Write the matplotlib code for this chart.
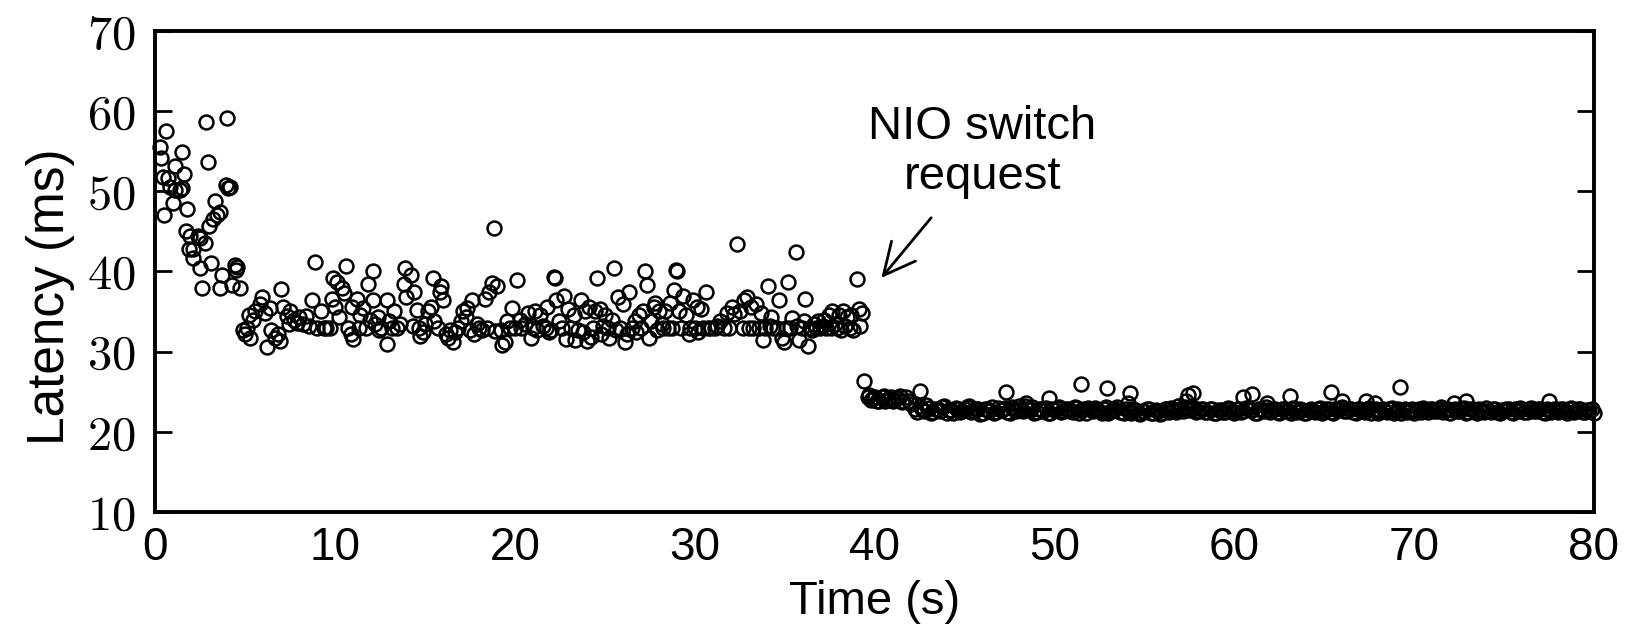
import matplotlib
matplotlib.use('Agg')
import matplotlib.pyplot as plt

# ------------------------
# data
# ------------------------
# 0-5 s: start-up, high latency
early_t = [0.25, 0.3, 0.6, 0.4, 0.7, 0.8, 1.1, 1.35, 1.47, 0.47, 1.0, 1.47, 1.1, 1.6, 1.75,
           2.9, 2.8, 4.0, 3.9, 4.15, 4.05, 3.3, 3.6, 3.4, 3.2, 3.0, 1.7, 1.9, 2.35, 2.5,
           2.75, 1.85, 2.1, 2.1, 2.5, 3.1, 3.7, 4.45, 4.5, 4.55, 2.6, 3.6, 4.25, 4.7]
early_lat = [55.5, 54.1, 57.5, 51.8, 51.6, 50.6, 50.2, 50.2, 50.4, 47.1, 48.5, 54.9, 53.2, 52.1, 47.8,
             53.6, 58.7, 59.1, 50.8, 50.5, 50.4, 48.8, 47.4, 47.0, 46.6, 45.7, 45.0, 44.4, 44.4, 44.2,
             43.6, 42.8, 42.8, 41.7, 40.4, 41.0, 39.6, 40.8, 40.2, 40.6, 38.0, 38.0, 38.3, 38.0]

# 5-39.5 s: before the NIO switch
pre_t = [4.85, 5.0, 5.1, 5.25, 5.2, 5.4, 5.55, 5.8, 5.95, 6.1, 6.2, 6.35, 6.45, 6.65, 6.8,
         6.9, 7.0, 7.1, 7.3, 7.4, 7.5, 7.7, 7.85, 8.0, 8.2, 8.35, 8.55, 8.7, 8.9, 9.0,
         9.2, 9.35, 9.5, 9.7, 9.8, 9.9, 10.0, 10.1, 10.2, 10.4, 10.5, 10.6, 10.7, 10.85, 10.95,
         11.0, 11.2, 11.3, 11.4, 11.55, 11.7, 11.8, 11.95, 12.1, 12.1, 12.2, 12.35, 12.45, 12.55, 12.9,
         12.85, 13.0, 13.15, 13.25, 13.45, 13.6, 13.8, 13.95, 13.9, 14.2, 14.3, 14.4, 14.55, 14.65, 14.7,
         14.9, 15.0, 15.15, 15.3, 15.45, 15.5, 15.7, 15.8, 15.9, 16.0, 16.15, 16.25, 16.4, 16.55, 16.65,
         16.85, 17.0, 17.1, 17.25, 17.35, 17.5, 17.6, 17.7, 17.9, 18.0, 18.15, 18.3, 18.45, 18.55, 18.7,
         18.85, 18.9, 19.0, 19.2, 19.3, 19.45, 19.55, 19.7, 19.85, 20.0, 20.1, 20.25, 20.35, 20.55, 20.7,
         20.9, 21.0, 21.1, 21.2, 21.4, 21.55, 21.7, 21.8, 21.9, 22.0, 22.15, 22.2, 22.3, 22.45, 22.6,
         22.7, 22.85, 22.95, 23.1, 23.25, 23.35, 23.5, 23.65, 23.75, 23.9, 24.0, 24.1, 24.2, 24.35, 24.45,
         24.55, 24.7, 24.8, 24.9, 25.0, 25.15, 25.25, 25.4, 25.5, 25.6, 25.7, 25.85, 26.0, 26.1, 26.25,
         26.35, 26.5, 26.65, 26.75, 26.9, 27.0, 27.1, 27.2, 27.35, 27.45, 27.55, 27.7, 27.8, 27.9, 28.0,
         28.15, 28.25, 28.35, 28.5, 28.6, 28.7, 28.85, 28.95, 29.0, 29.1, 29.25, 29.35, 29.5, 29.65, 29.75,
         29.9, 30.0, 30.1, 30.2, 30.35, 30.45, 30.6, 30.75, 30.9, 31.1, 31.25, 31.4, 31.6, 31.8, 31.9,
         32.05, 32.2, 32.35, 32.5, 32.65, 32.75, 32.9, 33.0, 33.1, 33.25, 33.4, 33.55, 33.7, 33.8, 33.9,
         34.05, 34.15, 34.25, 34.35, 34.55, 34.65, 34.85, 34.95, 35.05, 35.2, 35.3, 35.4, 35.6, 35.7, 35.8,
         35.95, 36.05, 36.15, 36.3, 36.4, 36.5, 36.6, 36.75, 36.85, 36.95, 37.1, 37.2, 37.3, 37.45, 37.55,
         37.65, 37.8, 37.9, 38.0, 38.1, 38.25, 38.35, 38.45, 38.6, 38.7, 38.8, 39.0, 39.1, 39.2, 39.3]
pre_lat = [32.7, 32.2, 33.0, 31.7, 34.6, 33.9, 35.1, 36.0, 36.8, 34.8, 30.6, 35.5, 32.7, 31.7, 32.2,
           31.3, 37.8, 35.6, 34.4, 33.5, 35.1, 34.0, 33.6, 34.3, 33.5, 34.4, 33.2, 36.4, 41.2, 33.0,
           35.1, 33.0, 33.0, 33.0, 36.6, 39.2, 35.6, 38.7, 34.3, 37.9, 37.3, 40.7, 33.0, 32.2, 35.6,
           31.6, 36.6, 33.0, 34.6, 35.5, 32.9, 38.4, 33.9, 40.1, 36.5, 33.4, 34.3, 32.7, 33.0, 30.9,
           36.5, 33.8, 33.0, 35.1, 33.0, 33.5, 38.4, 36.8, 40.4, 39.5, 33.2, 37.4, 35.2, 33.0, 32.0,
           32.5, 33.4, 35.1, 35.6, 39.2, 33.8, 33.0, 37.4, 38.2, 36.5, 32.2, 31.7, 32.7, 31.2, 32.5,
           33.0, 33.8, 35.1, 34.3, 35.5, 32.7, 36.4, 32.2, 33.4, 33.0, 32.7, 36.6, 33.0, 37.5, 38.6,
           45.4, 32.6, 38.2, 32.7, 30.8, 31.2, 33.8, 33.0, 35.5, 33.0, 39.0, 34.0, 33.0, 33.5, 34.8,
           31.7, 33.0, 35.1, 32.7, 34.6, 33.2, 33.0, 35.6, 32.5, 32.7, 39.3, 39.2, 36.4, 33.8, 33.0,
           36.9, 31.6, 35.3, 33.0, 34.6, 31.4, 32.7, 36.4, 32.5, 35.1, 31.3, 35.6, 31.8, 33.0, 35.1,
           39.2, 35.3, 32.2, 33.2, 34.6, 33.0, 31.7, 34.0, 40.4, 32.7, 36.8, 33.0, 35.9, 31.2, 32.2,
           37.4, 33.0, 33.8, 32.5, 34.6, 33.0, 35.1, 40.0, 38.3, 31.7, 33.8, 35.6, 36.1, 32.7, 35.1,
           33.5, 33.0, 35.1, 33.0, 36.1, 33.0, 37.7, 40.2, 40.1, 35.1, 33.0, 36.9, 34.6, 32.2, 33.0,
           36.4, 33.0, 35.6, 32.5, 35.3, 33.0, 37.4, 33.0, 33.0, 33.0, 33.2, 33.8, 33.0, 34.8, 33.0,
           35.6, 34.7, 43.4, 35.1, 33.0, 36.4, 36.8, 33.0, 35.6, 33.0, 35.9, 33.0, 34.8, 31.4, 33.0,
           38.2, 33.2, 34.3, 33.0, 33.0, 36.4, 31.7, 31.2, 33.0, 38.7, 33.0, 34.2, 42.4, 33.2, 31.4,
           33.0, 33.8, 36.6, 30.7, 33.0, 32.7, 33.5, 33.0, 33.8, 33.0, 33.2, 34.0, 33.0, 34.6, 33.0,
           35.1, 33.5, 33.0, 34.6, 32.7, 35.1, 33.2, 34.3, 33.0, 34.6, 32.7, 39.1, 35.3, 33.2, 34.8]

# 39.5-42 s: right after the switch
switch_t = [39.6, 39.8, 40.0, 40.25, 40.5, 40.75, 41.0, 41.25, 41.5, 41.75, 42.0,
            39.7, 39.9, 40.1, 40.4, 40.6, 40.9, 41.1, 41.4, 41.6, 41.9]
switch_lat = [24.4, 24.0, 24.3, 23.9, 24.5, 24.1, 23.8, 24.2, 23.7, 24.4, 23.5,
              24.6, 24.2, 23.8, 24.3, 23.9, 24.4, 24.0, 24.5, 23.9, 23.8]

# 42-80 s: steady state after the switch
post_t = [42.25, 42.5, 42.75, 43.0, 43.25, 43.5, 43.75, 44.0,
          44.25, 44.5, 44.75, 45.0, 45.25, 45.5, 45.75, 46.0,
          46.25, 46.5, 46.75, 47.0, 47.25, 47.5, 47.75, 48.0,
          48.25, 48.5, 48.75, 49.0, 49.25, 49.5, 49.75, 50.0,
          50.25, 50.5, 50.75, 51.0, 51.25, 51.5, 51.75, 52.0,
          52.25, 52.5, 52.75, 53.0, 53.25, 53.5, 53.75, 54.0,
          54.25, 54.5, 54.75, 55.0, 55.25, 55.5, 55.75, 56.0,
          56.25, 56.5, 56.75, 57.0, 57.25, 57.5, 57.75, 58.0,
          58.25, 58.5, 58.75, 59.0, 59.25, 59.5, 59.75, 60.0,
          60.25, 60.5, 60.75, 61.0, 61.25, 61.5, 61.75, 62.0,
          62.25, 62.5, 62.75, 63.0, 63.25, 63.5, 63.75, 64.0,
          64.25, 64.5, 64.75, 65.0, 65.25, 65.5, 65.75, 66.0,
          66.25, 66.5, 66.75, 67.0, 67.25, 67.5, 67.75, 68.0,
          68.25, 68.5, 68.75, 69.0, 69.25, 69.5, 69.75, 70.0,
          70.25, 70.5, 70.75, 71.0, 71.25, 71.5, 71.75, 72.0,
          72.25, 72.5, 72.75, 73.0, 73.25, 73.5, 73.75, 74.0,
          74.25, 74.5, 74.75, 75.0, 75.25, 75.5, 75.75, 76.0,
          76.25, 76.5, 76.75, 77.0, 77.25, 77.5, 77.75, 78.0,
          78.25, 78.5, 78.75, 79.0, 79.25, 79.5, 79.75, 80.0]
post_lat = [22.9, 23.2, 22.6, 23.0, 22.5, 22.8, 23.1, 22.4,
            22.7, 23.0, 22.5, 22.9, 23.2, 22.6, 22.8, 22.3,
            22.9, 23.1, 22.5, 22.7, 23.0, 22.4, 22.8, 23.2,
            22.6, 22.9, 23.1, 22.5, 22.8, 23.0, 22.4, 22.7,
            23.1, 22.6, 22.9, 22.5, 23.0, 22.7, 22.4, 22.8,
            23.0, 22.6, 22.9, 22.3, 22.7, 23.1, 22.5, 22.8,
            22.4, 22.7, 22.2, 22.6, 22.9, 22.3, 22.6, 22.4,
            22.8, 23.0, 22.5, 22.9, 23.1, 22.7, 23.0, 22.6,
            22.8, 22.5, 22.9, 22.3, 22.7, 22.5, 22.8, 22.4,
            22.9, 22.6, 23.0, 22.7, 22.4, 22.8, 23.1, 22.5,
            22.8, 22.4, 22.9, 22.6, 23.0, 22.5, 22.7, 22.3,
            22.8, 22.5, 23.0, 22.6, 22.9, 22.4, 22.7, 23.1,
            22.6, 22.9, 22.3, 22.8, 22.5, 23.0, 22.7, 22.4,
            22.8, 22.5, 23.0, 22.6, 22.3, 22.9, 22.7, 22.4,
            22.8, 23.0, 22.5, 22.9, 22.6, 23.1, 22.7, 22.4,
            22.9, 22.6, 23.0, 22.5, 22.8, 22.4, 22.7, 23.0,
            22.5, 22.8, 22.3, 22.7, 22.9, 22.4, 22.6, 22.8,
            22.5, 23.0, 22.6, 22.8, 22.3, 22.7, 22.9, 22.5,
            22.8, 22.4, 23.0, 22.6, 22.9, 22.5, 22.7, 22.4]

# in-between samples of the same period
post2_t = [42.375, 42.625, 42.875, 43.125, 43.375, 43.625, 43.875, 44.125,
           44.375, 44.625, 44.875, 45.125, 45.375, 45.625, 45.875, 46.125,
           46.375, 46.625, 46.875, 47.125, 47.375, 47.625, 47.875, 48.125,
           48.375, 48.625, 48.875, 49.125, 49.375, 49.625, 49.875, 50.125,
           50.375, 50.625, 50.875, 51.125, 51.375, 51.625, 51.875, 52.125,
           52.375, 52.625, 52.875, 53.125, 53.375, 53.625, 53.875, 54.125,
           54.375, 54.625, 54.875, 55.125, 55.375, 55.625, 55.875, 56.125,
           56.375, 56.625, 56.875, 57.125, 57.375, 57.625, 57.875, 58.125,
           58.375, 58.625, 58.875, 59.125, 59.375, 59.625, 59.875, 60.125,
           60.375, 60.625, 60.875, 61.125, 61.375, 61.625, 61.875, 62.125,
           62.375, 62.625, 62.875, 63.125, 63.375, 63.625, 63.875, 64.125,
           64.375, 64.625, 64.875, 65.125, 65.375, 65.625, 65.875, 66.125,
           66.375, 66.625, 66.875, 67.125, 67.375, 67.625, 67.875, 68.125,
           68.375, 68.625, 68.875, 69.125, 69.375, 69.625, 69.875, 70.125,
           70.375, 70.625, 70.875, 71.125, 71.375, 71.625, 71.875, 72.125,
           72.375, 72.625, 72.875, 73.125, 73.375, 73.625, 73.875, 74.125,
           74.375, 74.625, 74.875, 75.125, 75.375, 75.625, 75.875, 76.125,
           76.375, 76.625, 76.875, 77.125, 77.375, 77.625, 77.875, 78.125,
           78.375, 78.625, 78.875, 79.125, 79.375, 79.625, 79.875]
post2_lat = [22.5, 22.8, 23.3, 22.4, 22.9, 22.6, 23.2, 22.7,
             22.4, 22.9, 22.6, 23.1, 22.5, 22.8, 22.2, 22.9,
             22.6, 22.3, 23.0, 22.8, 22.5, 23.1, 22.6, 22.9,
             23.2, 22.7, 22.4, 22.9, 22.6, 22.3, 22.8, 23.0,
             22.5, 22.9, 22.6, 23.1, 22.4, 22.8, 23.0, 22.6,
             22.7, 22.4, 23.1, 22.6, 22.9, 22.5, 22.3, 22.6,
             22.8, 22.3, 22.6, 22.9, 22.4, 22.7, 22.2, 22.8,
             22.5, 22.7, 23.2, 22.6, 23.0, 22.8, 22.5, 22.9,
             22.5, 22.9, 22.4, 22.7, 22.5, 23.0, 22.6, 22.8,
             22.5, 23.0, 22.7, 22.4, 22.9, 22.6, 22.7, 22.9,
             22.5, 22.9, 22.6, 22.3, 22.8, 22.9, 22.4, 22.7,
             22.6, 22.9, 22.4, 22.8, 22.5, 22.9, 23.0, 22.6,
             22.9, 22.5, 22.8, 22.6, 22.9, 22.4, 22.8, 22.6,
             22.6, 22.9, 22.4, 22.8, 22.7, 22.5, 22.9, 22.6,
             22.5, 22.7, 22.9, 22.6, 22.9, 22.5, 22.9, 22.7,
             22.6, 22.9, 22.4, 22.8, 22.6, 22.9, 22.5, 22.6,
             22.8, 22.5, 22.7, 22.9, 22.5, 22.8, 23.0, 22.5,
             22.8, 22.6, 22.9, 22.5, 22.8, 22.5, 22.6, 22.8,
             22.6, 22.9, 22.5, 22.8, 22.5, 22.7, 22.9]

# scattered spikes after the switch
spike_t = [39.4, 42.5, 47.3, 49.7, 51.5, 52.9, 48.4, 54.2, 54.1, 57.4, 57.7, 57.3,
           60.5, 61.0, 61.8, 63.1, 65.4, 66.0, 69.2, 67.3, 67.8, 72.2, 72.9, 77.5]
spike_lat = [26.3, 25.1, 25.0, 24.2, 26.0, 25.5, 23.6, 24.8, 23.6, 24.6, 24.8, 23.9,
             24.3, 24.7, 23.6, 24.5, 25.0, 23.8, 25.6, 23.8, 23.6, 23.6, 23.8, 23.8]

x_ticks = [0, 10, 20, 30, 40, 50, 60, 70, 80]
y_ticks = [10, 20, 30, 40, 50, 60, 70]

# ------------------------
# plot
# ------------------------
plt.rcParams['font.family'] = ['Liberation Sans', 'DejaVu Sans']
plt.rcParams['mathtext.fontset'] = 'cm'

fig = plt.figure(figsize=(16.26, 6.31), dpi=100)
ax = fig.add_axes([0.0956, 0.1886, 0.8847, 0.7623])

style = dict(linestyle='none', marker='o', markersize=10, markerfacecolor='none',
             markeredgecolor='black', markeredgewidth=1.8, clip_on=False)
for t, lat in [(early_t, early_lat), (pre_t, pre_lat), (switch_t, switch_lat),
               (post_t, post_lat), (post2_t, post2_lat), (spike_t, spike_lat)]:
    ax.plot(t, lat, **style)

ax.set_xlim(0, 80)
ax.set_ylim(10, 70)
ax.set_xticks(x_ticks)
ax.set_xticklabels([str(v) for v in x_ticks], fontsize=33)
ax.set_yticks(y_ticks)
ax.set_yticklabels(['$%d$' % v for v in y_ticks], fontsize=35)
ax.tick_params(axis='x', length=0, pad=10)
ax.tick_params(axis='y', direction='in', length=12, width=2, pad=14, right=True)
for s in ax.spines.values():
    s.set_linewidth(2.8)

ax.set_xlabel('Time (s)', fontsize=34, labelpad=7)
ax.set_ylabel('Latency (ms)', fontsize=37)
ax.yaxis.set_label_coords(-0.056, 0.448)

ax.text(46.0, 54.9, 'NIO switch\nrequest', ha='center', va='center',
        fontsize=34, linespacing=1.15)
ax.annotate('', xy=(40.37, 39.2), xytext=(43.14, 46.7),
            arrowprops=dict(arrowstyle='->, head_length=0.65, head_width=0.32', lw=2,
                            color='black', mutation_scale=35, shrinkA=0, shrinkB=0))

fig.savefig('out.png', dpi=100)
